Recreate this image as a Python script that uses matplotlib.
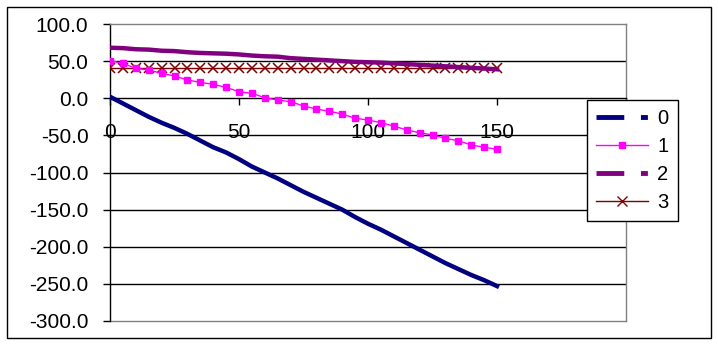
import matplotlib
matplotlib.use("Agg")
import matplotlib.pyplot as plt
from matplotlib.lines import Line2D
from matplotlib.patches import Rectangle

plt.rcParams['font.family'] = ['Liberation Sans', 'DejaVu Sans']
plt.rcParams['lines.scale_dashes'] = False

x_vals = list(range(0, 151, 5))

series_0 = [2, -7, -16, -25, -33, -40, -48, -57, -66, -73, -82, -92, -100, -108,
            -117, -126, -134, -142, -150, -160, -169, -177, -186, -195, -204,
            -213, -222, -230, -238, -245, -253]
series_1 = [50.6, 47, 40.3, 38, 33.6, 30, 24.6, 21.4, 18.7, 14.7, 8.8, 6.6, 0.7,
            -2.4, -4.6, -10.4, -14.5, -17.6, -21.2, -27, -29.3, -32.9, -37.4,
            -42.8, -46.4, -49.5, -54, -57.2, -63, -66, -68.8]
series_2 = [68, 67.5, 66, 65.5, 64, 63.5, 62, 61, 60.5, 60, 59, 57.5, 56.5, 56,
            54, 53, 52, 51, 50, 49, 48.5, 48, 47, 46, 45, 44, 43, 42, 41, 40, 39]
series_3 = [40.5] * 31

labels = ["0", "1", "2", "3"]
y_ticks = [100, 50, 0, -50, -100, -150, -200, -250, -300]
x_ticks = [0, 50, 100, 150, 200]

navy = "#000080"
magenta = "#FF00FF"
purple = "#800080"
maroon = "#800000"

fig = plt.figure(figsize=(7.18, 3.45), dpi=100)
ax = fig.add_axes([110 / 718, 1 - 321 / 345, 516 / 718, 297 / 345])

ax.plot(x_vals, series_0, color=navy, lw=3.2, solid_joinstyle='round', zorder=5)
ax.plot(x_vals, series_1, color=magenta, lw=1.0, marker='s', markersize=5,
        markeredgecolor=magenta, zorder=6)
ax.plot(x_vals, series_2, color=purple, lw=3.2, zorder=4)
ax.plot(x_vals, series_3, color=maroon, lw=1.0, marker='x', markersize=6.5,
        markeredgewidth=1.1, zorder=3)

ax.set_xlim(0, 200)
ax.set_ylim(-300, 100)
ax.set_yticks(y_ticks)
ax.set_yticklabels([f"{v:.1f}" for v in y_ticks])
ax.set_xticks(x_ticks)
ax.set_xticklabels([str(v) if v < 200 else "" for v in x_ticks])

for v in y_ticks[1:-1]:
    if v != 0:
        ax.axhline(v, color="black", lw=1.0, zorder=1)

ax.spines['bottom'].set_position(('data', 0))
ax.spines['bottom'].set_color('black')
ax.spines['left'].set_color('black')
ax.spines['top'].set_color('#808080')
ax.spines['right'].set_color('#808080')
for s in ax.spines.values():
    s.set_linewidth(1.0)
ax.add_line(Line2D([0, 1], [0, 0], transform=ax.transAxes, color='#808080', lw=1.0,
                   clip_on=False))

ax.tick_params(axis='y', direction='out', length=5, width=1, pad=10.5, labelsize=15)
ax.tick_params(axis='x', direction='out', length=5, width=1, pad=12.5, labelsize=15)

handles = [
    Line2D([], [], color=navy, lw=3.5, linestyle=(0, (20, 12, 5, 40))),
    Line2D([], [], color=magenta, lw=1.0, marker='s', markersize=5),
    Line2D([], [], color=purple, lw=3.5, linestyle=(0, (20, 12, 5, 40))),
    Line2D([], [], color=maroon, lw=1.0, marker='x', markersize=6.5),
]
leg = fig.legend(handles, labels, loc='upper left',
                 bbox_to_anchor=(587 / 718, 1 - 100 / 345), bbox_transform=fig.transFigure,
                 borderaxespad=0, fontsize=14.5, handlelength=2.6, handletextpad=0.45,
                 labelspacing=0.45, borderpad=0.45, fancybox=False, frameon=True,
                 framealpha=1)
leg.get_frame().set_edgecolor('black')
leg.get_frame().set_linewidth(1.0)

fig.patches.append(Rectangle((7 / 718, 7 / 345), 704 / 718, 331 / 345,
                             transform=fig.transFigure, fill=False,
                             edgecolor='black', lw=1.0))

fig.savefig("out.png", dpi=100)
